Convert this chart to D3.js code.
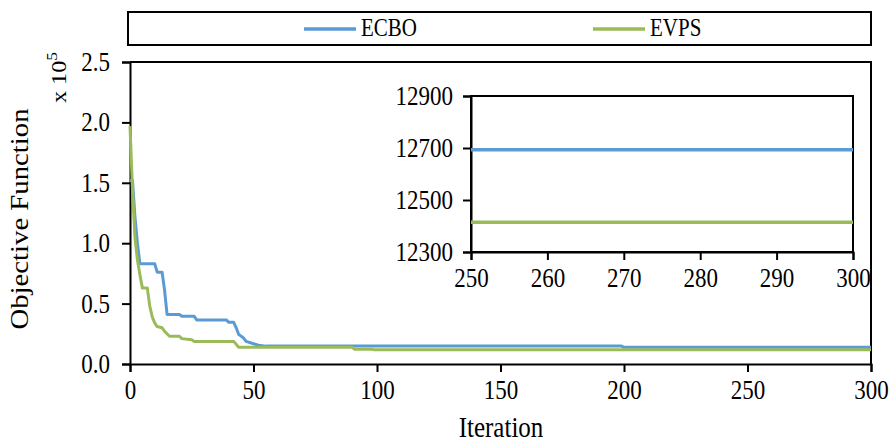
<!DOCTYPE html>
<html>
<head>
<meta charset="utf-8">
<script src="https://cdn.jsdelivr.net/npm/d3@7"></script>
<style>
  body { margin: 0; background: #fff; }
  text { font-family: "Liberation Serif", "Times New Roman", serif; fill: #000; }
</style>
</head>
<body>
<svg id="chart" width="890" height="446"></svg>
<script>
// series names + colours
var seriesNames = ["ECBO", "EVPS"];
var seriesColors = ["#5B9BD5", "#9BBB59"];

// main plot, objective value x 10^5
var ecboIter = [0, 1, 2, 3, 4, 10, 11, 13, 14, 15, 20, 21, 26, 27, 39, 40, 42, 43, 44, 46, 47, 50, 52, 55, 199, 200, 300];
var ecboVal  = [1.52, 1.52, 1.22, 1.00, 0.83, 0.83, 0.76, 0.76, 0.61, 0.41, 0.41, 0.395, 0.395, 0.365, 0.365, 0.345, 0.345, 0.30, 0.245, 0.215, 0.187, 0.168, 0.155, 0.148, 0.148, 0.138, 0.138];
var evpsIter = [0, 1, 2, 3, 4, 5, 7, 8, 9, 10, 11, 13, 14, 16, 20, 21, 25, 26, 42, 44, 90, 91, 98, 99, 300];
var evpsVal  = [1.97, 1.45, 1.05, 0.86, 0.74, 0.63, 0.63, 0.48, 0.39, 0.34, 0.31, 0.30, 0.27, 0.23, 0.23, 0.21, 0.20, 0.187, 0.187, 0.138, 0.138, 0.122, 0.122, 0.117, 0.117];

var xTicks = [0, 50, 100, 150, 200, 250, 300];
var yTicks = [0, 0.5, 1.0, 1.5, 2.0, 2.5];

// inset (iterations 250-300)
var insetIter = [250, 300];
var insetEcbo = [12693, 12693];
var insetEvps = [12414, 12414];
var insetXTicks = [250, 260, 270, 280, 290, 300];
var insetYTicks = [12300, 12500, 12700, 12900];

var sy = 1.15; // text looks a bit taller than wide in the original

var svg = d3.select("#chart");

function toPts(xs, ys) {
  return xs.map(function (d, i) { return [d, ys[i]]; });
}

// ---- legend box
svg.append("rect")
  .attr("x", 128).attr("y", 12).attr("width", 743).attr("height", 33)
  .attr("fill", "none").attr("stroke", "#000").attr("stroke-width", 2);

var legX = [304, 593];
seriesNames.forEach(function (n, i) {
  svg.append("line")
    .attr("x1", legX[i]).attr("x2", legX[i] + 52)
    .attr("y1", 29).attr("y2", 29)
    .attr("stroke", seriesColors[i]).attr("stroke-width", 3.5);
  svg.append("text")
    .attr("transform", "translate(" + (legX[i] + 57) + ",36) scale(1," + sy + ")")
    .attr("font-size", 21)
    .text(n);
});

// ---- main plot
var margin = {left: 130, top: 62, right: 19, bottom: 82};
var width = 890 - margin.left - margin.right,
    height = 446 - margin.top - margin.bottom;

var g = svg.append("g").attr("transform", "translate(" + margin.left + "," + margin.top + ")");

var x = d3.scaleLinear().domain([0, 300]).range([0, width]);
var y = d3.scaleLinear().domain([0, 2.5]).range([height, 0]);

// frame (top/right)
g.append("path")
  .attr("d", "M0,0H" + width + "V" + height)
  .attr("fill", "none").attr("stroke", "#000").attr("stroke-width", 2);

var xAxis = g.append("g")
  .attr("transform", "translate(0," + height + ")")
  .call(d3.axisBottom(x).tickValues(xTicks).tickSize(8).tickPadding(6).tickFormat(d3.format("d")));
var yAxis = g.append("g")
  .call(d3.axisLeft(y).tickValues(yTicks).tickSize(8).tickPadding(12).tickFormat(d3.format(".1f")));

[xAxis, yAxis].forEach(function (a) {
  a.select(".domain").attr("stroke-width", 2);
  a.selectAll(".tick line").attr("stroke-width", 2);
  a.selectAll(".tick text")
    .attr("font-size", 23)
    .attr("font-family", "Liberation Serif, Times New Roman, serif")
    .attr("transform", "scale(1," + sy + ")");
});

var line = d3.line()
  .x(function (d) { return x(d[0]); })
  .y(function (d) { return y(d[1]); });

g.append("path")
  .datum(toPts(ecboIter, ecboVal))
  .attr("fill", "none").attr("stroke", seriesColors[0]).attr("stroke-width", 3)
  .attr("stroke-linejoin", "round")
  .attr("d", line);

g.append("path")
  .datum(toPts(evpsIter, evpsVal))
  .attr("fill", "none").attr("stroke", seriesColors[1]).attr("stroke-width", 3)
  .attr("stroke-linejoin", "round")
  .attr("d", line);

// axis titles
svg.append("text")
  .attr("transform", "translate(501,437) scale(1," + sy + ")")
  .attr("text-anchor", "middle")
  .attr("font-size", 25)
  .text("Iteration");

svg.append("text")
  .attr("transform", "translate(28,219) rotate(-90) scale(" + sy + ",1)")
  .attr("text-anchor", "middle")
  .attr("font-size", 25)
  .text("Objective Function");

var mult = svg.append("text")
  .attr("transform", "translate(66,103) rotate(-90) scale(" + sy + ",1)")
  .attr("font-size", 21);
mult.append("tspan").text("x 10");
mult.append("tspan").attr("dy", -9).attr("font-size", 15).text("5");

// ---- inset
var ins = {left: 471, top: 96, right: 853, bottom: 252};
var gi = svg.append("g").attr("transform", "translate(" + ins.left + "," + ins.top + ")");
var iw = ins.right - ins.left, ih = ins.bottom - ins.top;

var xi = d3.scaleLinear().domain([250, 300]).range([0, iw]);
var yi = d3.scaleLinear().domain([12300, 12900]).range([ih, 0]);

gi.append("rect")
  .attr("width", iw).attr("height", ih)
  .attr("fill", "#fff").attr("stroke", "#000").attr("stroke-width", 2);

var xiAxis = gi.append("g")
  .attr("transform", "translate(0," + ih + ")")
  .call(d3.axisBottom(xi).tickValues(insetXTicks).tickSize(8).tickPadding(6).tickFormat(d3.format("d")));
var yiAxis = gi.append("g")
  .call(d3.axisLeft(yi).tickValues(insetYTicks).tickSize(8).tickPadding(10).tickFormat(d3.format("d")));

[xiAxis, yiAxis].forEach(function (a) {
  a.select(".domain").attr("stroke-width", 2);
  a.selectAll(".tick line").attr("stroke-width", 2);
  a.selectAll(".tick text")
    .attr("font-size", 23)
    .attr("font-family", "Liberation Serif, Times New Roman, serif")
    .attr("transform", "scale(1," + sy + ")");
});

var lineI = d3.line()
  .x(function (d) { return xi(d[0]); })
  .y(function (d) { return yi(d[1]); });

gi.append("path")
  .datum(toPts(insetIter, insetEcbo))
  .attr("fill", "none").attr("stroke", seriesColors[0]).attr("stroke-width", 3.5)
  .attr("d", lineI);
gi.append("path")
  .datum(toPts(insetIter, insetEvps))
  .attr("fill", "none").attr("stroke", seriesColors[1]).attr("stroke-width", 3.5)
  .attr("d", lineI);
</script>
</body>
</html>
